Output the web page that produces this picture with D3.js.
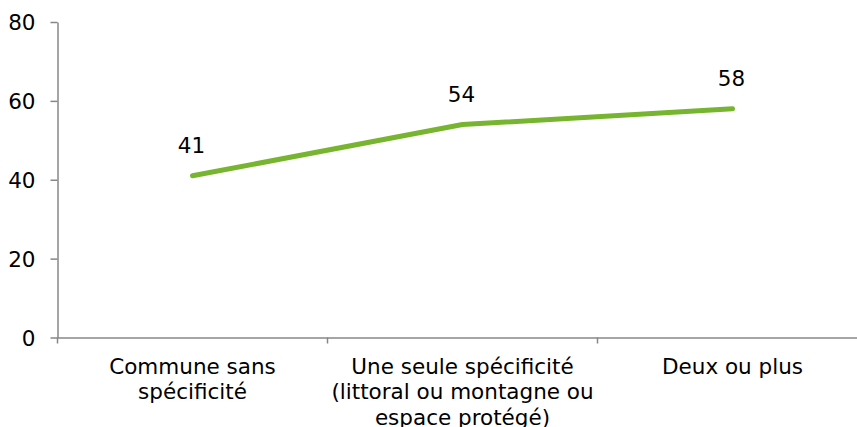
<!DOCTYPE html>
<html>
<head>
<meta charset="utf-8">
<script src="https://cdn.jsdelivr.net/npm/d3@7"></script>
<style>
  body { margin: 0; background: #fff; }
  svg text { font-family: "DejaVu Sans", Verdana, sans-serif; font-size: 21.5px; fill: #000; }
</style>
</head>
<body>
<div id="chart"></div>
<script>
const categories = ['Commune sans spécificité', 'Une seule spécificité (littoral ou montagne ou espace protégé)', 'Deux ou plus'];
const categoryLines = [
  ['Commune sans', 'spécificité'],
  ['Une seule spécificité', '(littoral ou montagne ou', 'espace protégé)'],
  ['Deux ou plus']
];
const values = [41, 54, 58];
const yTicks = [0, 20, 40, 60, 80];

const width = 857, height = 427;
const margin = { top: 22, left: 57.5, bottom: 89.5 };
const axisColor = '#878787';

const svg = d3.select('#chart').append('svg')
  .attr('width', width)
  .attr('height', height);

const x = d3.scaleBand()
  .domain(categories)
  .range([margin.left, margin.left + 810]);

const y = d3.scaleLinear()
  .domain([0, 80])
  .range([height - margin.bottom, margin.top]);

// y axis
const yAxis = svg.append('g')
  .attr('transform', `translate(${margin.left},0)`)
  .call(d3.axisLeft(y).tickValues(yTicks).tickSize(7).tickPadding(15).tickSizeOuter(0));
yAxis.select('.domain').attr('stroke', axisColor).attr('stroke-width', 1.5);
yAxis.selectAll('.tick line').attr('stroke', axisColor).attr('stroke-width', 1.5);
yAxis.selectAll('.tick text').attr('dy', '0.36em');

// x axis
const xAxis = svg.append('g')
  .attr('transform', `translate(0,${y(0)})`)
  .call(d3.axisBottom(x).tickSize(0).tickFormat(''));
xAxis.select('.domain').attr('stroke', axisColor).attr('stroke-width', 1.5);
xAxis.selectAll('.tick').remove();

// boundary ticks between categories
const bounds = categories.map(c => x(c));
xAxis.selectAll('.bound')
  .data(bounds)
  .enter().append('line')
  .attr('x1', d => d).attr('x2', d => d)
  .attr('y1', 0).attr('y2', 6)
  .attr('stroke', axisColor)
  .attr('stroke-width', 1.5);

// category labels
const labels = svg.append('g')
  .selectAll('text')
  .data(categories)
  .enter().append('text')
  .attr('text-anchor', 'middle')
  .attr('x', d => x(d) + x.bandwidth() / 2)
  .attr('y', y(0) + 36);
labels.each(function(d, i) {
  d3.select(this).selectAll('tspan')
    .data(categoryLines[i])
    .enter().append('tspan')
    .attr('x', x(d) + x.bandwidth() / 2)
    .attr('dy', (l, j) => j === 0 ? 0 : 25.5)
    .text(l => l);
});

// line
const pts = categories.map((c, i) => [x(c) + x.bandwidth() / 2, y(values[i])]);
svg.append('path')
  .datum(pts)
  .attr('fill', 'none')
  .attr('stroke', '#77b530')
  .attr('stroke-width', 5)
  .attr('stroke-linecap', 'round')
  .attr('stroke-linejoin', 'round')
  .attr('d', d3.line());

// value labels
svg.append('g')
  .selectAll('text')
  .data(values)
  .enter().append('text')
  .attr('text-anchor', 'middle')
  .attr('x', (d, i) => x(categories[i]) + x.bandwidth() / 2 - 1)
  .attr('y', d => y(d) - 23)
  .text(d => d);
</script>
</body>
</html>
